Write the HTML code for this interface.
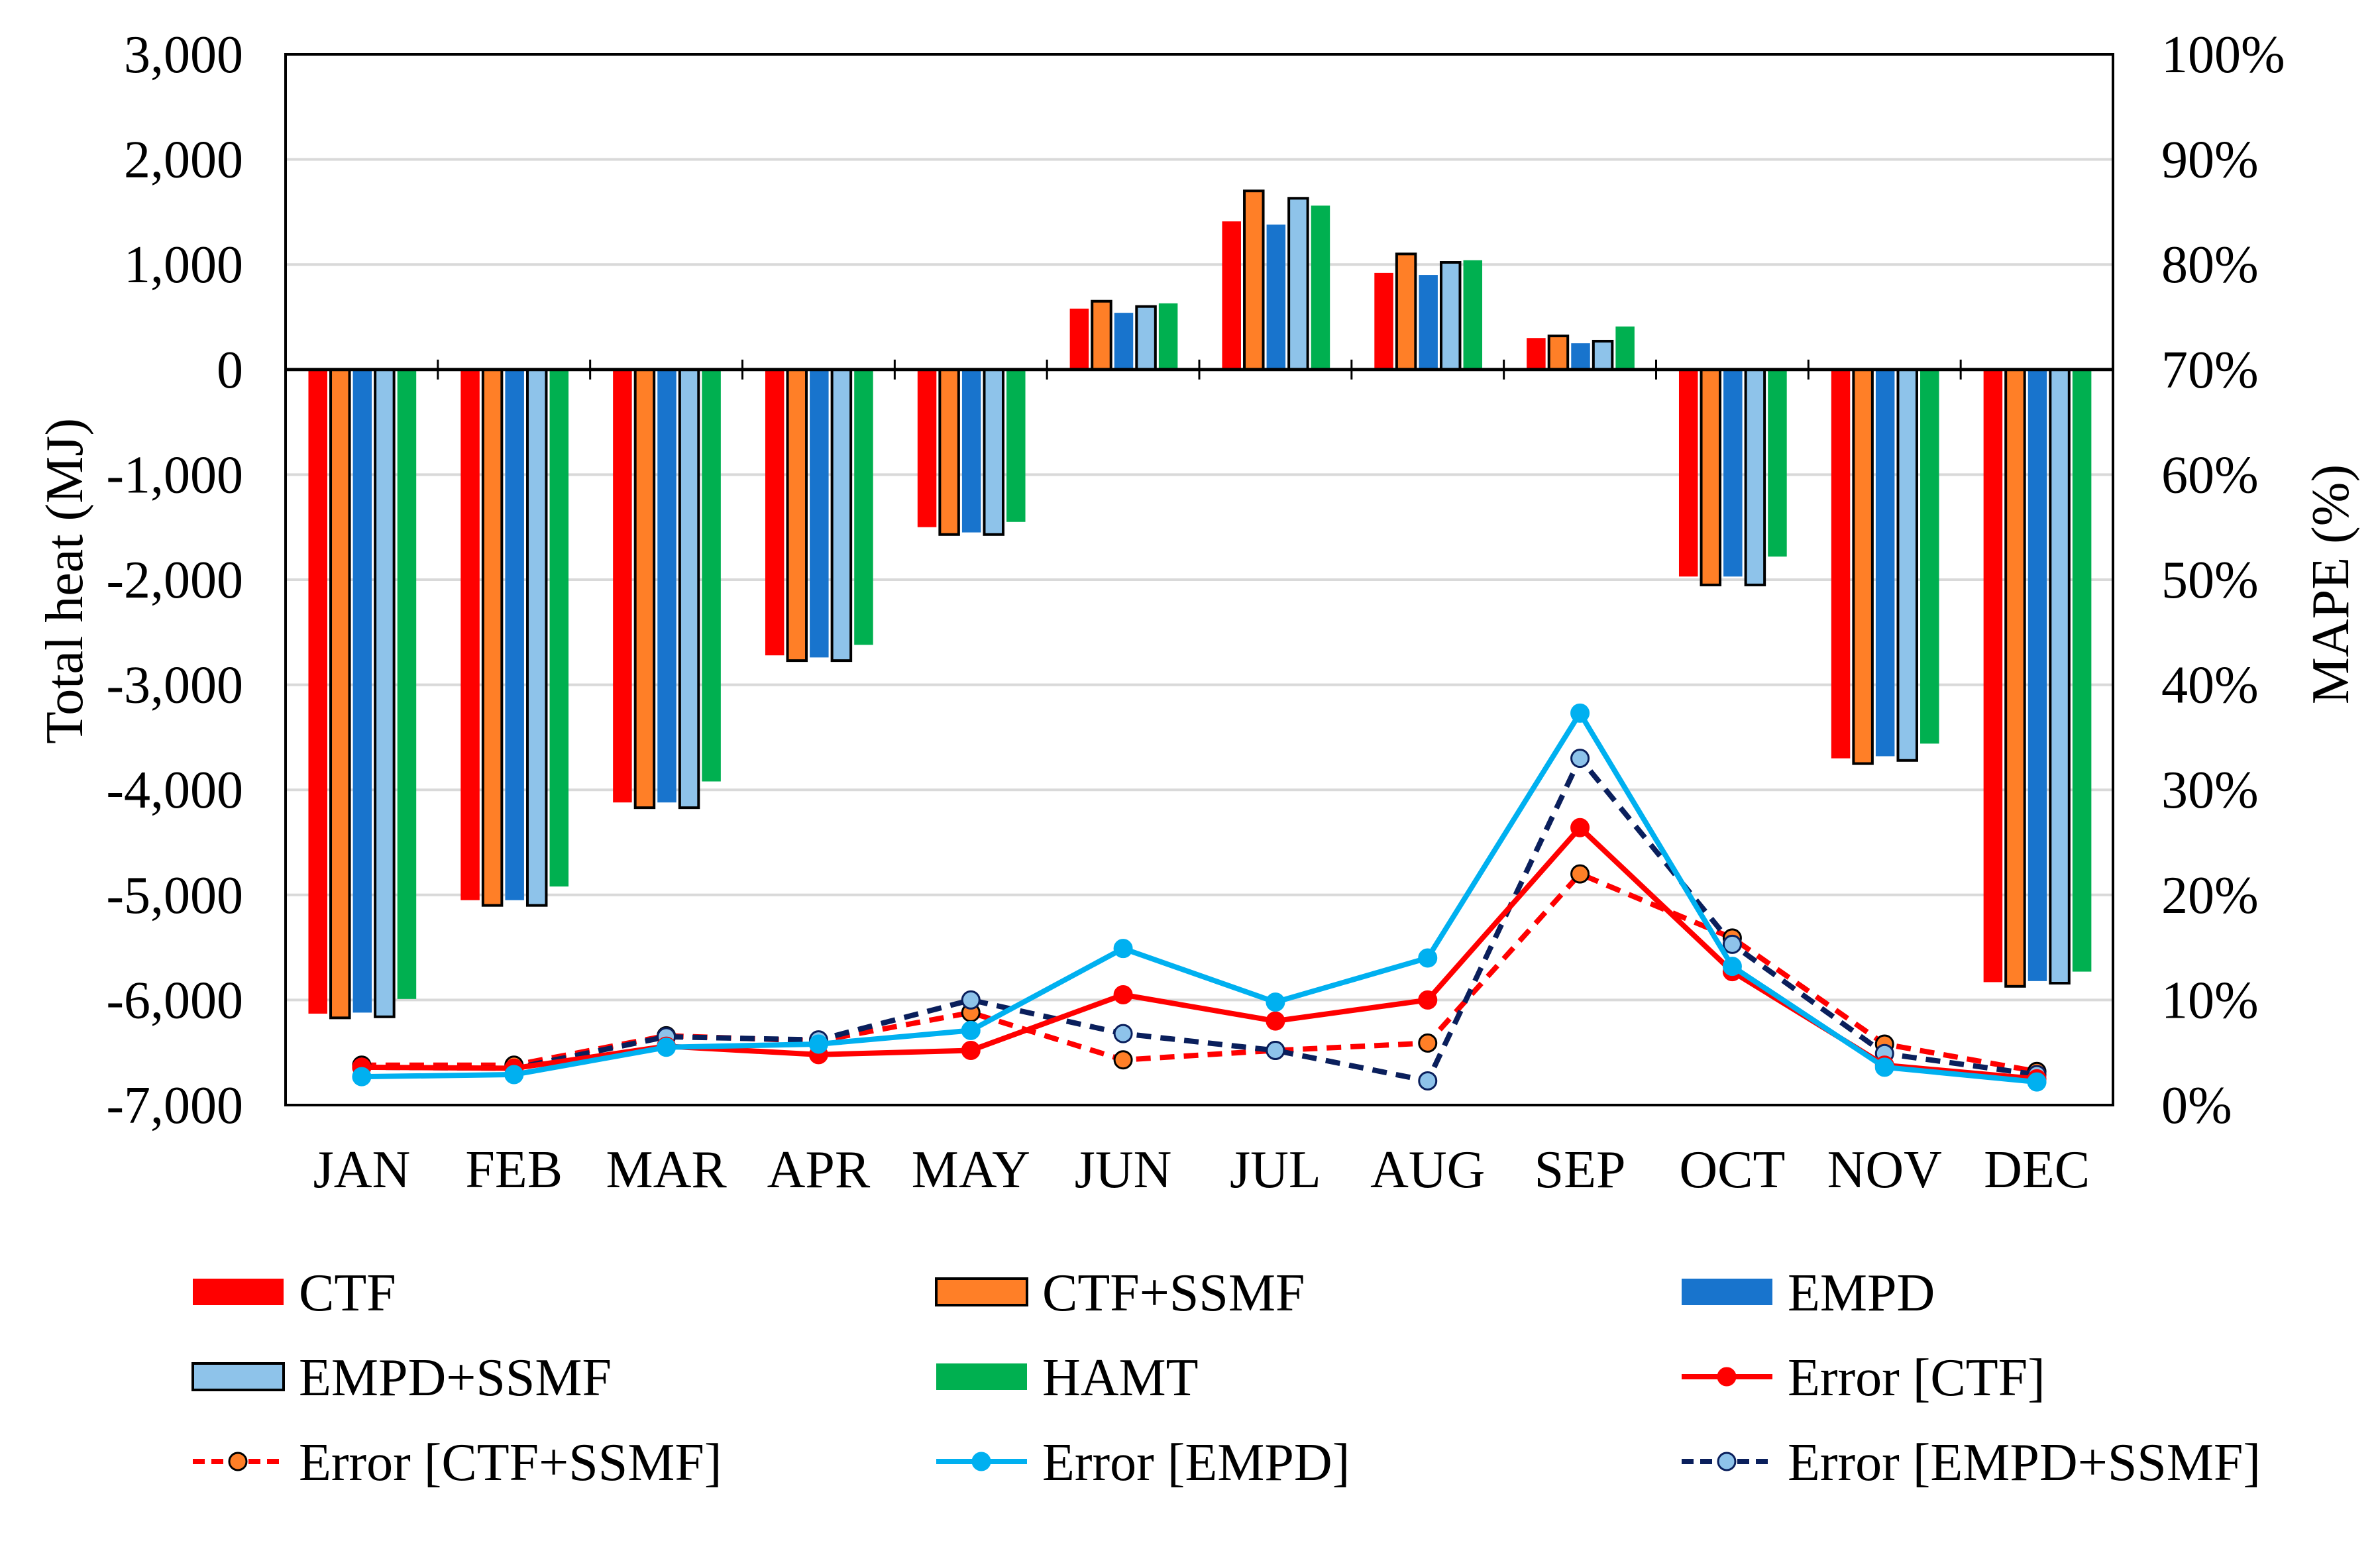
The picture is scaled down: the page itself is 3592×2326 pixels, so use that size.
<!DOCTYPE html>
<html><head><meta charset="utf-8"><style>
html,body{margin:0;padding:0;background:#fff;}
svg{display:block;font-family:"Liberation Serif",serif;}
</style></head><body>
<svg id="chart" width="3592" height="2326" viewBox="0 0 3592 2326" xmlns="http://www.w3.org/2000/svg">
<rect width="3592" height="2326" fill="#fff"/>
<g id="grid"></g><g id="bars"></g><g id="axes"></g><g id="lines"></g><g id="legend"></g>
</svg>
<script>
const months=["JAN","FEB","MAR","APR","MAY","JUN","JUL","AUG","SEP","OCT","NOV","DEC"];
const leftTicks=[3000,2000,1000,0,-1000,-2000,-3000,-4000,-5000,-6000,-7000];
const rightTicks=[0,10,20,30,40,50,60,70,80,90,100];
const ctf=[-6130,-5050,-4120,-2720,-1500,580,1410,920,300,-1970,-3700,-5830];
const ctfSsmf=[-6170,-5100,-4170,-2770,-1570,650,1700,1100,320,-2050,-3750,-5870];
const empd=[-6120,-5050,-4120,-2740,-1550,540,1380,900,250,-1970,-3680,-5820];
const empdSsmf=[-6160,-5100,-4170,-2770,-1570,600,1630,1020,270,-2050,-3720,-5840];
const hamt=[-5990,-4920,-3920,-2620,-1450,630,1560,1040,410,-1780,-3560,-5730];
const errCtf=[3.6,3.5,5.6,4.8,5.2,10.5,8.0,10.0,26.4,12.7,3.8,2.5];
const errCtfSsmf=[3.8,3.8,6.6,6.1,8.8,4.3,5.2,5.9,22.0,15.9,5.8,3.2];
const errEmpd=[2.7,2.9,5.5,5.8,7.1,14.9,9.8,14.0,37.3,13.2,3.6,2.2];
const errEmpdSsmf=[3.6,3.5,6.5,6.2,10.0,6.8,5.2,2.3,33.0,15.3,4.9,2.9];

const NS="http://www.w3.org/2000/svg";
const L=431,R=3189,T=82,B=1668;
const FS=80;
const yL=v=>T+(3000-v)/10000*(B-T);
const yR=p=>B-p/100*(B-T);
const cw=(R-L)/12;
const xC=i=>L+cw*(i+0.5);
function mk(tag,attrs,parent,text){const e=document.createElementNS(NS,tag);for(const k in attrs)e.setAttribute(k,attrs[k]);if(text!==undefined)e.textContent=text;parent.appendChild(e);return e;}
const grid=document.getElementById('grid'),bars=document.getElementById('bars'),axes=document.getElementById('axes'),lines=document.getElementById('lines'),legend=document.getElementById('legend');

leftTicks.forEach(v=>{
  if(v!==3000&&v!==-7000&&v!==0){const g=mk('line',{x1:L,x2:R,y1:yL(v),y2:yL(v),stroke:'#d9d9d9','stroke-width':4},grid);
  
  }
  const t=mk('text',{x:367,y:yL(v)+27,'text-anchor':'end','font-size':FS},axes,v.toLocaleString('en-US'));
  
  
});
rightTicks.forEach(p=>{
  const t=mk('text',{x:3262,y:yR(p)+27,'font-size':FS},axes,p+'%');
  
  
});

const series=[{d:ctf,c:'#ff0000',s:false,n:'CTF'},{d:ctfSsmf,c:'#ff7f27',s:true,n:'CTF+SSMF'},{d:empd,c:'#1874cd',s:false,n:'EMPD'},{d:empdSsmf,c:'#8ec3ea',s:true,n:'EMPD+SSMF'},{d:hamt,c:'#00b050',s:false,n:'HAMT'}];
series.forEach((s,k)=>{
  s.d.forEach((v,i)=>{
    const x=L+cw*i+cw*(0.15+0.146*k);
    const w=cw*0.124;
    const y0=yL(0),y1=yL(v);
    const r=mk('rect',{x:x,y:Math.min(y0,y1),width:w,height:Math.abs(y1-y0),fill:s.c},bars);
    if(s.s){r.setAttribute('stroke','#000');r.setAttribute('stroke-width',4);}
    
    
  });
});

const frame=mk('rect',{x:L,y:T,width:R-L,height:B-T,fill:'none',stroke:'#000','stroke-width':4},axes);


const zl=mk('line',{x1:L,x2:R,y1:yL(0),y2:yL(0),stroke:'#000','stroke-width':5},axes);


for(let i=1;i<12;i++){const tk=mk('line',{x1:L+cw*i,x2:L+cw*i,y1:yL(0)-15,y2:yL(0)+15,stroke:'#000','stroke-width':3},axes);

}
months.forEach((m,i)=>{const t=mk('text',{x:xC(i),y:1792,'text-anchor':'middle','font-size':FS},axes,m);

});
const lt=mk('text',{x:0,y:0,'text-anchor':'middle','font-size':FS,transform:'translate(124,877) rotate(-90)'},axes,'Total heat (MJ)');


const rt=mk('text',{x:0,y:0,'text-anchor':'middle','font-size':FS,transform:'translate(3544,882) rotate(-90)'},axes,'MAPE (%)');



const lineSeries=[{d:errCtfSsmf,c:'#ff0000',dash:'22 14',mf:'#ff7f27',ms:'#000',n:'error-ctf-ssmf'},{d:errEmpdSsmf,c:'#0a1f5c',dash:'22 14',mf:'#8ec3ea',ms:'#0a1f5c',n:'error-empd-ssmf'},{d:errCtf,c:'#ff0000',dash:'',mf:'#ff0000',ms:'#ff0000',n:'error-ctf'},{d:errEmpd,c:'#00b0f0',dash:'',mf:'#00b0f0',ms:'#00b0f0',n:'error-empd'}];
lineSeries.forEach(s=>{
  const pts=s.d.map((p,i)=>xC(i)+','+yR(p)).join(' ');
  const pl=mk('polyline',{points:pts,fill:'none',stroke:s.c,'stroke-width':8,'stroke-dasharray':s.dash},lines);
  
  
  s.d.forEach((p,i)=>{const c=mk('circle',{cx:xC(i),cy:yR(p),r:13,fill:s.mf,stroke:s.ms,'stroke-width':3},lines);
  
  });
});

const cols=[291,1413,2538],rows=[1950,2078,2206];
const leg=[
 {t:'CTF',type:'bar',c:'#ff0000',s:false},{t:'CTF+SSMF',type:'bar',c:'#ff7f27',s:true},{t:'EMPD',type:'bar',c:'#1874cd',s:false},
 {t:'EMPD+SSMF',type:'bar',c:'#8ec3ea',s:true},{t:'HAMT',type:'bar',c:'#00b050',s:false},{t:'Error [CTF]',type:'line',c:'#ff0000',mf:'#ff0000',ms:'#ff0000',dash:''},
 {t:'Error [CTF+SSMF]',type:'line',c:'#ff0000',mf:'#ff7f27',ms:'#000',dash:'18 10'},{t:'Error [EMPD]',type:'line',c:'#00b0f0',mf:'#00b0f0',ms:'#00b0f0',dash:''},{t:'Error [EMPD+SSMF]',type:'line',c:'#0a1f5c',mf:'#8ec3ea',ms:'#0a1f5c',dash:'18 10'}];
leg.forEach((e,k)=>{
  const x=cols[k%3],y=rows[Math.floor(k/3)];
  const g=mk('g',{},legend);
  
  
  if(e.type==='bar'){const r=mk('rect',{x:x,y:y-20,width:137,height:40,fill:e.c},g);if(e.s){r.setAttribute('stroke','#000');r.setAttribute('stroke-width',4);}}
  else{mk('line',{x1:x,x2:x+137,y1:y,y2:y,stroke:e.c,'stroke-width':8,'stroke-dasharray':e.dash},g);mk('circle',{cx:x+68,cy:y,r:13,fill:e.mf,stroke:e.ms,'stroke-width':3},g);}
  mk('text',{x:x+160,y:y+28,'font-size':FS},g,e.t);
});
</script>
</body></html>
